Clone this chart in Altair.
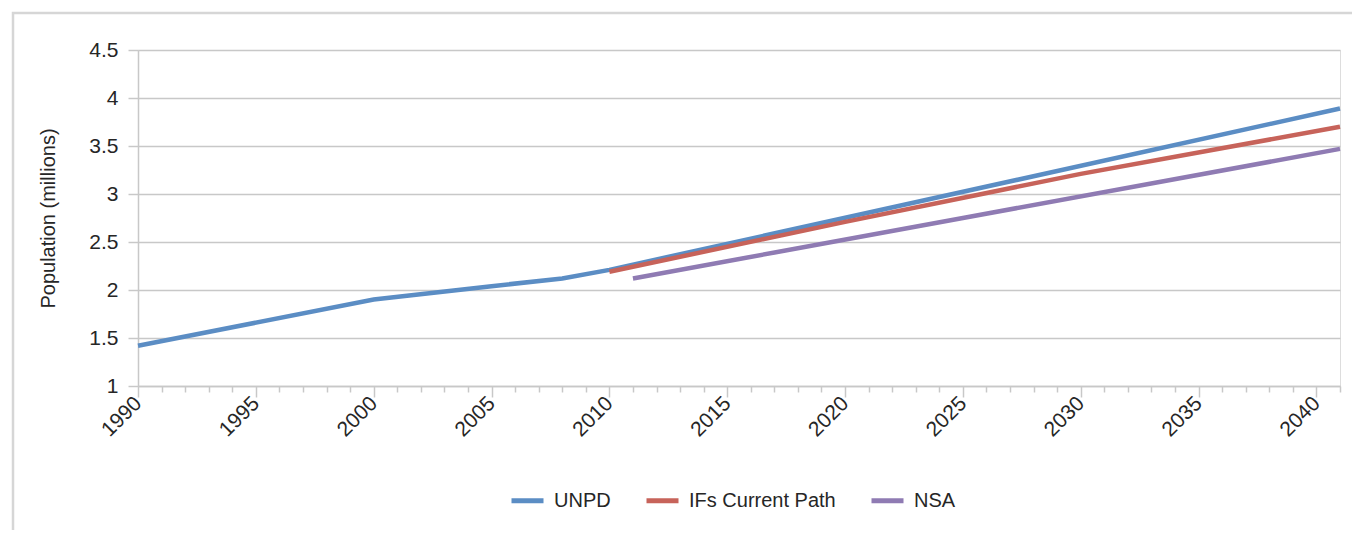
import altair as alt
import pandas as pd

# ---- data ----
series_names = ["UNPD", "IFs Current Path", "NSA"]
series_colors = ["#5b8dc4", "#c7635a", "#8f7bb3"]

unpd_years = [1990, 2000, 2005, 2008, 2010, 2041]
unpd_values = [1.42, 1.90, 2.04, 2.12, 2.21, 3.89]

ifs_years = [2010, 2020, 2030, 2041]
ifs_values = [2.19, 2.71, 3.21, 3.70]

nsa_years = [2011, 2025, 2041]
nsa_values = [2.12, 2.75, 3.47]

x_all_ticks = list(range(1990, 2042))
y_ticks = [1, 1.5, 2, 2.5, 3, 3.5, 4, 4.5]

rows = []
for name, yrs, vals in [
    (series_names[0], unpd_years, unpd_values),
    (series_names[1], ifs_years, ifs_values),
    (series_names[2], nsa_years, nsa_values),
]:
    for yr, v in zip(yrs, vals):
        rows.append({"series": name, "year": yr, "value": v})
df = pd.DataFrame(rows)
df["order"] = df["series"].map({n: i for i, n in enumerate(series_names)})

FONT = "Liberation Sans"
TXT = "#262626"
GRID = "#c8c8c8"

lines = alt.Chart(df).mark_line(strokeWidth=4.5, strokeCap="butt").encode(
    x=alt.X(
        "year:Q",
        scale=alt.Scale(domain=[1990, 2041], nice=False, zero=False),
        axis=alt.Axis(
            title=None,
            values=x_all_ticks,
            labelExpr="datum.value % 5 === 0 ? datum.value : ''",
            grid=False,
            labelAngle=-45,
            labelAlign="right",
            labelBaseline="middle",
            labelPadding=3,
            labelFontSize=21,
            labelFont=FONT,
            labelColor=TXT,
            tickColor=GRID,
            tickWidth=1.5,
            tickSize={"condition": {"test": "datum.value % 5 === 0", "value": 11}, "value": 6},
            domainColor=GRID,
            domainWidth=1.5,
            labelOverlap=False,
            labelFlush=False,
        ),
    ),
    y=alt.Y(
        "value:Q",
        scale=alt.Scale(domain=[1, 4.5], nice=False, zero=False),
        axis=alt.Axis(
            title="Population (millions)",
            values=y_ticks,
            format="~g",
            grid=True,
            gridColor=GRID,
            gridWidth=1.5,
            tickColor=GRID,
            tickWidth=1.5,
            tickSize=10,
            domainColor=GRID,
            domainWidth=1.5,
            labelPadding=10,
            labelFontSize=21,
            labelFont=FONT,
            labelColor=TXT,
            titleFont=FONT,
            titleFontSize=20,
            titleFontWeight="normal",
            titleColor=TXT,
            titlePadding=30,
        ),
    ),
    color=alt.Color(
        "series:N",
        scale=alt.Scale(domain=series_names, range=series_colors),
        sort=series_names,
        legend=alt.Legend(
            title=None,
            orient="none",
            direction="horizontal",
            legendX=371,
            legendY=432,
            symbolType="stroke",
            symbolStrokeWidth=5,
            symbolSize=1024,
            labelFont=FONT,
            labelFontSize=20,
            labelColor=TXT,
            labelOffset=8,
            columnPadding=25,
        ),
    ),
    detail="series:N",
    order="order:Q",
)

frame_df = pd.DataFrame({"k": [0]})
frame = alt.Chart(frame_df).mark_rect(
    fill=None, stroke="#d6d6d6", strokeWidth=2.5
).encode(
    x=alt.value(-125), x2=alt.value(1240), y=alt.value(-37), y2=alt.value(520)
)

chart = alt.layer(frame, lines).properties(
    width=1202,
    height=336,
    autosize=alt.AutoSizeParams(type="none"),
    padding={"left": 130, "top": 42, "right": 12, "bottom": 144},
).configure_view(stroke=None).configure(background="white")

chart.save("out.html", embed_options={"renderer": "svg", "actions": False})
